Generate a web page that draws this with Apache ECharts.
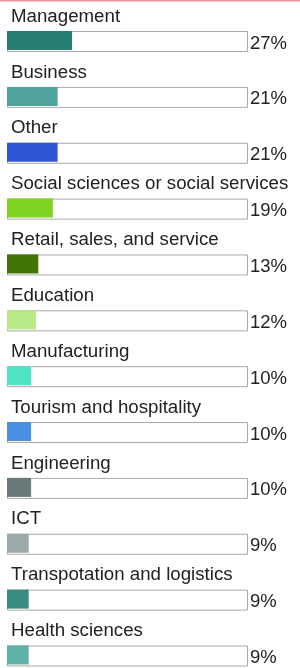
<!DOCTYPE html>
<html>
<head>
<meta charset="utf-8">
<script src="https://cdn.jsdelivr.net/npm/echarts@6/dist/echarts.min.js"></script>
<style>
  html, body { margin: 0; padding: 0; background: #fff; overflow: hidden; }
  #chart { width: 300px; height: 684px; }
</style>
</head>
<body>
<div id="chart"></div>
<script>
// 数据
const categories = [
    'Management', 'Business', 'Other', 'Social sciences or social services',
    'Retail, sales, and service', 'Education', 'Manufacturing',
    'Tourism and hospitality', 'Engineering', 'ICT',
    'Transpotation and logistics', 'Health sciences'
];
const values = [27, 21, 21, 19, 13, 12, 10, 10, 10, 9, 9, 9];
const barColors = [
    '#267d72', '#50a39a', '#2f56d6', '#7ed321', '#417505', '#b8e986',
    '#50e3c2', '#4a90e2', '#6a7a7b', '#9ba9ab', '#3a8b80', '#5fb1a6'
];
const fullValues = categories.map(() => 100);

const chart = echarts.init(document.getElementById('chart'));
const fontFamily = 'Liberation Sans, Arial, sans-serif';

const option = {
    animation: false,
    graphic: [
        {
            type: 'rect',
            shape: { x: 0, y: 0, width: 300, height: 1.5 },
            style: { fill: '#e8949a' }
        }
    ],
    // 画布比窗口高一点，最后一行的下半格落在窗口外
    grid: {
        left: 7,
        width: 241,
        top: 12.6,
        height: 670.3
    },
    xAxis: {
        type: 'value',
        min: 0,
        max: 100,
        show: false
    },
    yAxis: {
        type: 'category',
        inverse: true,
        data: categories,
        show: false
    },
    series: [
        {
            // 白色底框
            type: 'bar',
            data: fullValues,
            barWidth: 21,
            barGap: '-100%',
            silent: true,
            itemStyle: {
                color: '#fff',
                borderColor: '#a9a9a9',
                borderWidth: 1
            },
            label: {
                show: true,
                position: 'right',
                distance: 2,
                offset: [0, 2],
                color: '#222',
                fontFamily: fontFamily,
                fontSize: 18.5,
                formatter: (p) => values[p.dataIndex] + '%'
            },
            z: 1
        },
        {
            type: 'bar',
            data: values,
            barWidth: 19,
            itemStyle: {
                color: (p) => barColors[p.dataIndex]
            },
            label: {
                show: true,
                position: [4, -5],
                verticalAlign: 'bottom',
                align: 'left',
                color: '#222',
                fontFamily: fontFamily,
                fontSize: 18.7,
                formatter: '{b}'
            },
            z: 2
        }
    ]
};
chart.setOption(option);
</script>
</body>
</html>
